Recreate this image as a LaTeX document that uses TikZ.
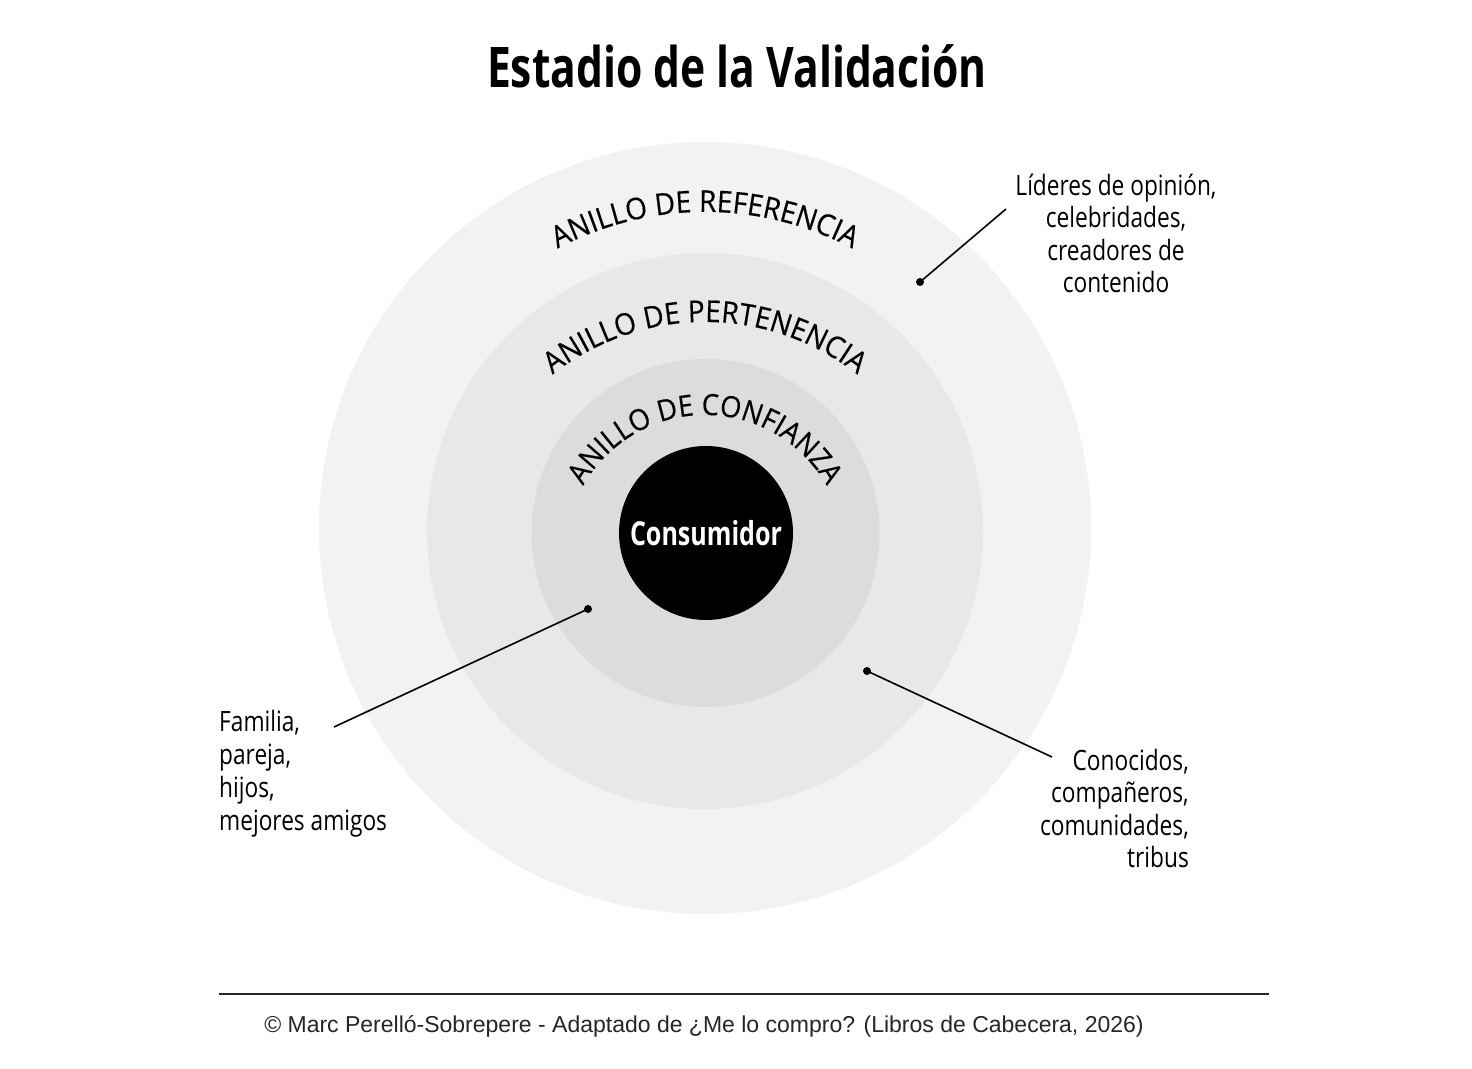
\documentclass[tikz,border=0pt]{standalone}
\usepackage{fontspec}
\setmainfont{Open Sans}
\newfontfamily\labelfont[FakeStretch=0.81]{Open Sans}
\newfontfamily\ringfont[FakeStretch=0.93,FakeBold=0.4]{Open Sans}
\newfontfamily\condbold[FakeStretch=0.76]{Open Sans}
\newfontfamily\footfont{Liberation Sans}
\usetikzlibrary{decorations.text,calc}
\definecolor{ringA}{HTML}{F2F2F2}
\definecolor{ringB}{HTML}{E8E8E8}
\definecolor{ringC}{HTML}{DCDCDC}
\newcommand{\ringsize}{\ringfont\fontsize{30}{32}\selectfont}
\newcommand{\ringsizesmall}{\ringfont\fontsize{29.3}{32}\selectfont}
\begin{document}
\begin{tikzpicture}[x=1pt,y=1pt,
  ringtext/.style={decorate,decoration={text along path,text align=center,text={#1}}},
  lbl/.style={font=\labelfont\fontsize{28}{32.5}\selectfont, inner sep=0pt},
  dotmark/.style={fill=black, circle, inner sep=0pt, minimum size=8pt},
  leader/.style={line width=1.6pt, black}]
\useasboundingbox[fill=white] (0,0) rectangle (1472,1068);
% rings
\fill[ringA] (705,540) circle[radius=386];
\fill[ringB] (705,537) circle[radius=278];
\fill[ringC] (705.5,535) circle[radius=174];
\node[circle, fill=black, minimum size=174pt, inner sep=0pt, text=white,
      font=\condbold\bfseries\fontsize{33}{36}\selectfont] (cons) at (706,535) {Consumidor};
% ring labels
\path[ringtext={|\ringsize|ANILLO DE REFERENCIA}] ($(705,541)+(160:315)$) arc[start angle=160,end angle=20,radius=315];
\path[ringtext={|\ringsize|ANILLO DE PERTENENCIA}] ($(705,499)+(165:247)$) arc[start angle=165,end angle=15,radius=247];
\path[ringtext={|\ringsizesmall|ANILLO DE CONFIANZA}] ($(705,513)+(178:140)$) arc[start angle=178,end angle=2,radius=140];
% title
\node[font=\condbold\bfseries\fontsize{56}{60}\selectfont, anchor=base, inner sep=0pt] (title) at (737,980) {Estadio de la Validación};
% side labels (base = last line)
\node[lbl, align=center, anchor=base] (lider) at (1116,775) {Líderes de opinión,\\celebridades,\\creadores de\\contenido};
\node[lbl, font=\labelfont\fontsize{28}{33}\selectfont, align=left, anchor=base west] (fam) at (219,237) {Familia,\\pareja,\\hijos,\\mejores amigos};
\node[lbl, align=right, anchor=base east] (cono) at (1189,200) {Conocidos,\\compañeros,\\comunidades,\\tribus};
% connectors
\node[dotmark] (d1) at (920,786) {};
\node[dotmark] (d2) at (588,459) {};
\node[dotmark] (d3) at (867,397) {};
\coordinate (e1) at (1006,859);
\coordinate (e2) at (334,341);
\coordinate (e3) at (1052,311);
\draw[leader] (d1.center) -- (e1);
\draw[leader] (d2.center) -- (e2);
\draw[leader] (d3.center) -- (e3);
% footer
\coordinate (fl) at (219,74);
\coordinate (fr) at (1269,74);
\draw[line width=2pt, black!85] (fl) -- (fr);
\node[font=\footfont\fontsize{23}{26}\selectfont, anchor=base, inner sep=0pt, text=black!85] (foot) at (704,35) {© Marc Perelló-Sobrepere - Adaptado de ¿Me lo compro? (Libros de Cabecera, 2026)};
\end{tikzpicture}
\end{document}
